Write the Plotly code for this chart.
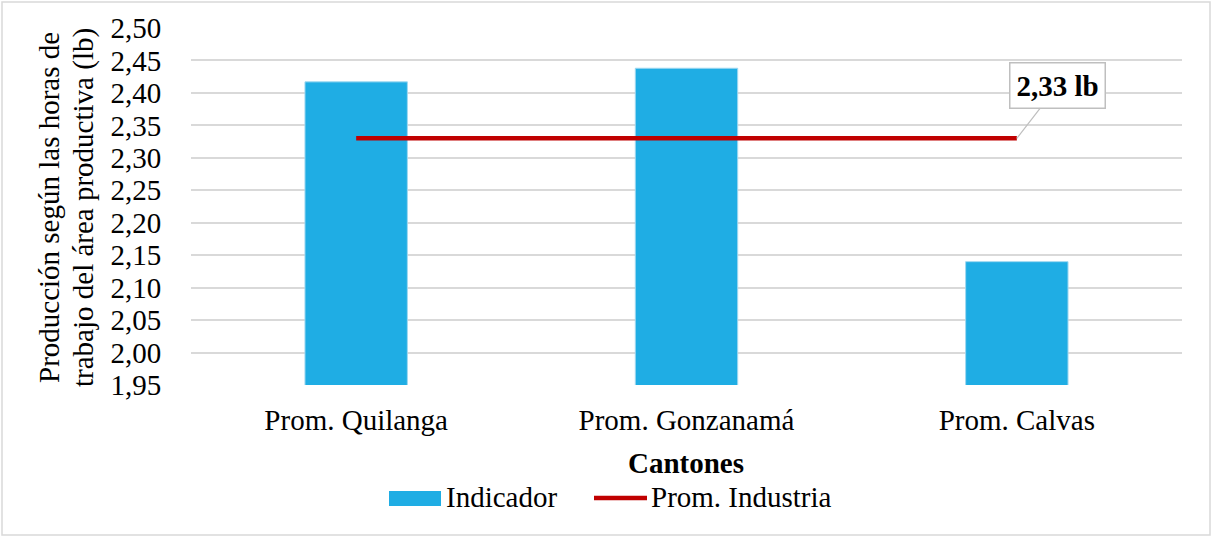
import plotly.graph_objects as go

# Data
cantones = ["Prom. Quilanga", "Prom. Gonzanamá", "Prom. Calvas"]
indicador = [2.417, 2.438, 2.14]
prom_industria = [2.33, 2.33, 2.33]
y_ticks = [1.95, 2.00, 2.05, 2.10, 2.15, 2.20, 2.25, 2.30, 2.35, 2.40, 2.45, 2.50]

W, H = 1212, 537
ML, MR, MT, MB = 191, 30, 28, 152
PW, PH = W - ML - MR, H - MT - MB

FONT = "Liberation Serif, Times New Roman, serif"
FS = 29
BLUE = "#1FADE4"
RED = "#C00000"
GRID = "#D9D9D9"


def px_x(p):
    return (p - ML) / PW


def px_y(p):
    return 1 - (p - MT) / PH


def label(x, y, text, size=FS, angle=0, xanchor="center"):
    fig.add_annotation(
        x=px_x(x), y=px_y(y), xref="paper", yref="paper",
        xanchor=xanchor, yanchor="middle", text=text, textangle=angle,
        showarrow=False, font=dict(family=FONT, size=size, color="#000"),
    )


fig = go.Figure()
fig.add_trace(go.Bar(
    x=cantones, y=indicador, name="Indicador",
    marker=dict(color=BLUE, line=dict(color="#9FD8F0", width=1)),
    width=0.31, showlegend=False,
))
fig.add_trace(go.Scatter(
    x=cantones, y=prom_industria, name="Prom. Industria", mode="lines",
    line=dict(color=RED, width=4.5), showlegend=False,
))

# Callout label on the end of the industry average line
fig.add_annotation(
    x=cantones[-1], y=prom_industria[-1], xref="x", yref="y",
    text="<b>2,33 lb</b>", font=dict(family=FONT, size=FS, color="#000"),
    showarrow=True, arrowhead=0, arrowwidth=1.2, arrowcolor="#BFBFBF",
    ax=41, ay=-53, bgcolor="white", bordercolor="#BFBFBF", borderwidth=1.5,
    borderpad=6,
)

# Axis titles
label(49, 208, "Producción según las horas de", angle=-90)
label(83, 208, "trabajo del área productiva (lb)", angle=-90)
label(686, 463, "<b>Cantones</b>")

# Legend
label(444, 497, "Indicador", xanchor="left")
label(649, 497, "Prom. Industria", xanchor="left")

shapes = [
    dict(type="rect", xref="paper", yref="paper",
         x0=px_x(389), x1=px_x(441), y0=px_y(506), y1=px_y(491),
         fillcolor=BLUE, line=dict(width=0)),
    dict(type="line", xref="paper", yref="paper",
         x0=px_x(594), x1=px_x(647), y0=px_y(498), y1=px_y(498),
         line=dict(color=RED, width=4.5)),
    dict(type="rect", xref="paper", yref="paper",
         x0=px_x(2), x1=px_x(1210), y0=px_y(535), y1=px_y(2),
         line=dict(color="#D9D9D9", width=1.5), fillcolor="rgba(0,0,0,0)",
         layer="below"),
]

fig.update_layout(
    width=W, height=H,
    margin=dict(l=ML, r=MR, t=MT, b=MB, pad=0),
    paper_bgcolor="white", plot_bgcolor="white",
    separators=",.",
    shapes=shapes,
    showlegend=False,
    font=dict(family=FONT, size=FS, color="#000"),
)
fig.update_xaxes(
    showgrid=False, showline=False, zeroline=False,
    ticks="outside", ticklen=9, tickcolor="rgba(0,0,0,0)",
    tickfont=dict(family=FONT, size=FS, color="#000"),
)
fig.update_yaxes(
    range=[1.95, 2.50], tickvals=y_ticks, tickformat=".2f",
    showgrid=True, gridcolor=GRID, gridwidth=1.5, zeroline=False,
    showline=False, ticks="outside", ticklen=23, tickcolor="rgba(0,0,0,0)",
    tickfont=dict(family=FONT, size=FS, color="#000"),
)

fig.write_html("out.html")
